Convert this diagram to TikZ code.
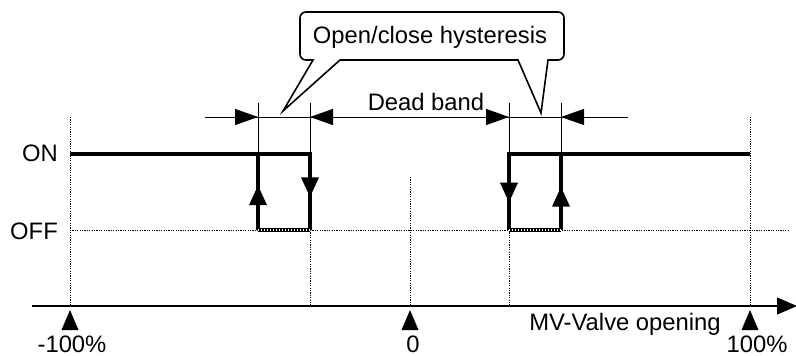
\documentclass[tikz,border=0pt]{standalone}
\usepackage{fontspec}
\setmainfont{Liberation Sans}
\usetikzlibrary{positioning, arrows.meta, decorations.markings}

\begin{document}
\begin{tikzpicture}[
		x=1pt, y=-1pt,
		% Estilos de lineas
		senal/.style={line width=3.6pt, line join=miter},
		guia/.style={line width=0.9pt, dash pattern=on 1.2pt off 1.2pt},
		cota/.style={line width=1pt},
		punta/.style={-{Triangle[length=23pt, width=16pt]}, line width=1pt},
		eje/.style={-{Triangle[length=20pt, width=17pt]}, line width=1.2pt},
		flecha_media/.style={postaction={decorate, decoration={markings, mark=at position #1 with {\arrow{Triangle[length=20pt, width=17pt]}}}}},
		globo/.style={line width=1.6pt, fill=white},
		% Estilo de etiquetas
		texto/.style={font=\fontsize{23.8}{28}\selectfont, inner sep=0pt, anchor=base}
		]
		\useasboundingbox (0,0) rectangle (796,356);
		
		% --- PUNTOS DE REFERENCIA ---
		\coordinate (m100) at (70,306);
		\coordinate (cero) at (410,306);
		\coordinate (p100) at (750,306);
		\coordinate (onL) at (70,154);
		\coordinate (onR) at (750,154);
		\coordinate (a1) at (258,154);
		\coordinate (a2) at (310,154);
		\coordinate (b1) at (509,154);
		\coordinate (b2) at (561,154);
		\coordinate (offL) at (70,230);
		\coordinate (offR) at (788,230);
		\coordinate (cotaL) at (205,117);
		\coordinate (cotaR) at (628,117);
		\coordinate (cotaM) at (426,117);
		
		% --- LINEAS GUIA (PUNTEADAS) ---
		\draw[guia] (m100 |- cotaL) -- (m100);
		\draw[guia] (p100 |- cotaL) -- (p100);
		\draw[guia] (410,177) -- (cero);
		\draw[guia] (a2 |- offL) -- (a2 |- m100);
		\draw[guia] (b1 |- offL) -- (b1 |- m100);
		\draw[guia] (offL) -- (offR);
		
		% --- EJE HORIZONTAL ---
		\coordinate (origen) at (32,306);
		\coordinate (fin) at (797,306);
		\draw[eje] (origen) -- (fin);
		\foreach \p in {m100, cero, p100}
			\fill ([yshift=-4pt]\p) -- ++(-8.5,20) -- ++(17,0) -- cycle;
		
		% --- CICLO DE HISTERESIS ---
		\draw[senal] (onL) -- (a2) -- ([yshift=-1pt]a2);
		\draw[senal] (onR) -- (b1) -- ([yshift=-1pt]b1);
		\draw[senal, flecha_media=0.57] (a2) -- (a2 |- offL);
		\draw[senal, flecha_media=0.59] (a1 |- offL) -- (a1);
		\draw[senal, flecha_media=0.64] (b1) -- (b1 |- offL);
		\draw[senal, flecha_media=0.57] (b2 |- offL) -- (b2);
		\draw[senal] (a1 |- offL) -- (a2 |- offL);
		\draw[senal] (b1 |- offL) -- (b2 |- offL);
		\draw[line width=1.3pt, white, dash pattern=on 1pt off 2pt] (a1 |- offL) -- (a2 |- offL);
		\draw[line width=1.3pt, white, dash pattern=on 1pt off 2pt] (b1 |- offL) -- (b2 |- offL);
		
		% --- COTAS ---
		\foreach \p in {a1, a2, b1, b2}
			\draw[cota] (\p) -- ([yshift=51pt]\p);
		\draw[cota] (cotaL) -- (cotaR);
		\draw[punta] (cotaL) -- (a1 |- cotaL);
		\draw[punta] (cotaR) -- (b2 |- cotaL);
		\draw[punta] (cotaM) -- (a2 |- cotaL);
		\draw[punta] (cotaM) -- (b1 |- cotaL);
		
		% --- GLOBO DE HISTERESIS ---
		\draw[globo] (432,12) [rounded corners=6pt] -- (564,12) -- (564,60) [sharp corners] -- (548,60) -- (541,113) -- (518,60) -- (340,60) -- (283,111) -- (313,60) [rounded corners=6pt] -- (300,60) -- (300,12) -- cycle;
		\node[texto] (histeresis) at (430,43) {Open/close hysteresis};
		
		% --- ETIQUETAS ---
		\node[texto] (banda) at (426,110) {Dead band};
		\node[texto, anchor=base east] (on) at (58,161) {ON};
		\node[texto, anchor=base east] (off) at (58,239) {OFF};
		\node[texto] (valvula) at (625,330) {MV-Valve opening};
		\node[texto] (lm100) at (72,352) {-100\%};
		\node[texto] (lcero) at (413,352) {0};
		\node[texto] (lp100) at (757,352) {100\%};
		
	\end{tikzpicture}
\end{document}
